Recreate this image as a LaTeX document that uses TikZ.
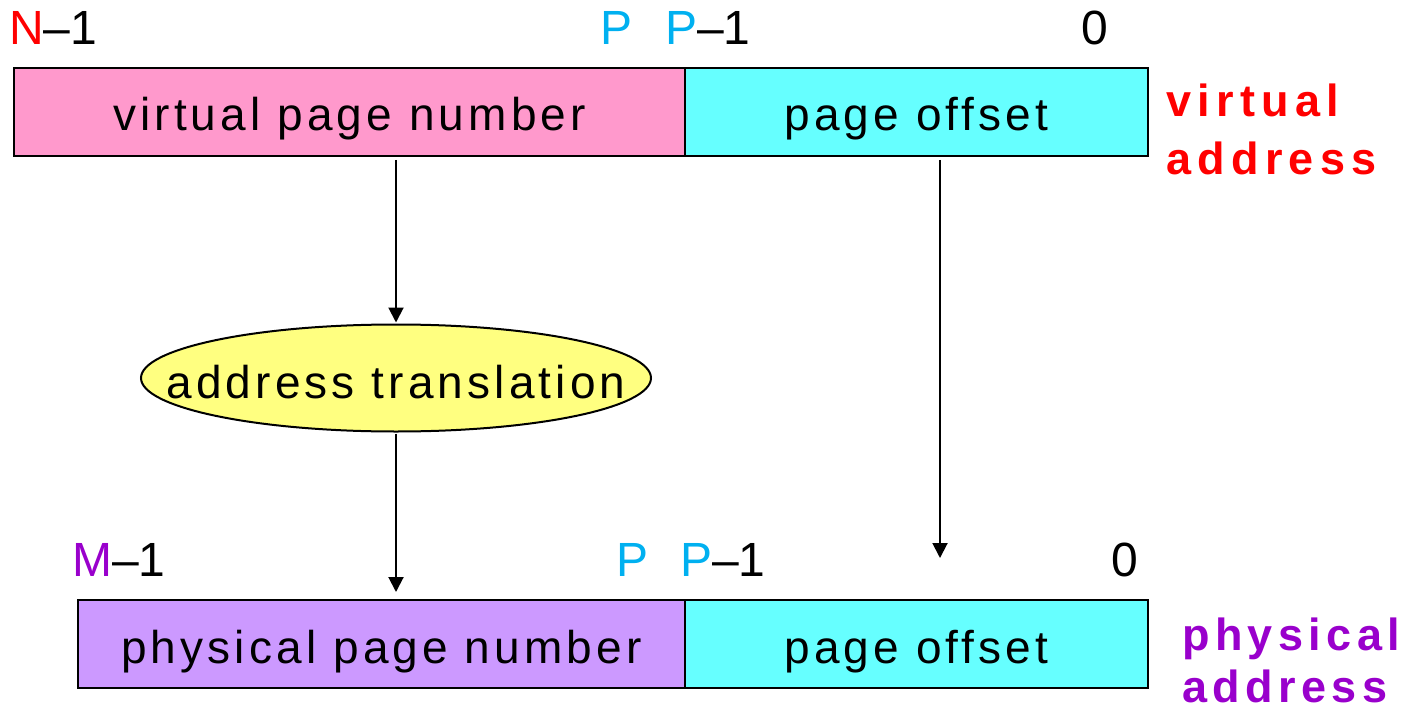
\documentclass[tikz,border=0pt]{standalone}
\usepackage{fontspec}
\setmainfont{Liberation Sans}
\newfontfamily\fieldfont[LetterSpace=9]{Liberation Sans}
\newfontfamily\tagfont[LetterSpace=14]{Liberation Sans}
\newfontfamily\ptagfont[LetterSpace=12]{Liberation Sans}
\usetikzlibrary{shapes.geometric,arrows.meta}

\definecolor{vpnfill}{HTML}{FF99CC}
\definecolor{offfill}{HTML}{66FFFF}
\definecolor{ppnfill}{HTML}{CC99FF}
\definecolor{xlatefill}{HTML}{FFFF80}
\definecolor{vred}{HTML}{FF0000}
\definecolor{bitblue}{HTML}{00B0F0}
\definecolor{pviolet}{HTML}{9900CC}

\begin{document}
\begin{tikzpicture}[x=1pt,y=-1pt,
  field/.style={draw=black, line width=2pt, inner sep=0pt, anchor=north west,
    minimum height=88pt, text height=38pt, text depth=0pt,
    font=\fieldfont\fontsize{46}{55}\selectfont},
  xlate/.style={ellipse, draw=black, line width=2pt, fill=xlatefill,
    inner xsep=-80pt, inner ysep=0pt, minimum width=510pt, minimum height=107pt,
    text height=40pt, text depth=0pt,
    font=\fieldfont\fontsize{46}{55}\selectfont},
  bit/.style={anchor=base west, inner sep=0pt, font=\fontsize{48}{58}\selectfont},
  tag/.style={anchor=base west, inner sep=0pt, font=\tagfont\bfseries\fontsize{45}{54}\selectfont},
  ptag/.style={anchor=base west, inner sep=0pt, font=\ptagfont\bfseries\fontsize{45}{54}\selectfont},
  arr/.style={line width=2pt, -{Triangle[length=15pt,width=15pt]}}]
\useasboundingbox (0,0) rectangle (1404,711);

% virtual address fields
\node[field, fill=vpnfill, minimum width=671pt] (vpn) at (13,67) {virtual page number};
\node[field, fill=offfill, minimum width=463pt] (vpo) at (684,67) {page offset};

% physical address fields
\node[field, fill=ppnfill, minimum width=607pt] (ppn) at (77,599) {physical page number};
\node[field, fill=offfill, minimum width=463pt] (ppo) at (684,599) {page offset};

% translation step
\node[xlate] (xt) at (396,378) {address translation};

% bit positions, virtual address
\node[bit] (vhi) at (9,45) {\textcolor{vred}{N}\textendash1};
\node[bit] (vp) at (600,45) {\textcolor{bitblue}{P}};
\node[bit] (vpm) at (665,45) {\textcolor{bitblue}{P}\textendash1};
\node[bit] (vlo) at (1081,45) {0};

% bit positions, physical address
\node[bit] (phi) at (72,576) {\textcolor{pviolet}{M}\textendash1};
\node[bit] (pp) at (616,576) {\textcolor{bitblue}{P}};
\node[bit] (ppm) at (680,576) {\textcolor{bitblue}{P}\textendash1};
\node[bit] (plo) at (1111,576) {0};

% address names
\node[tag, text=vred] (vt1) at (1166,117) {virtual};
\node[tag, text=vred] (vt2) at (1166,175) {address};
\node[ptag, text=pviolet] (pt1) at (1182,650) {physical};
\node[ptag, text=pviolet] (pt2) at (1182,702) {address};

% connectors
\coordinate (offend) at (940,558);
\draw[arr, shorten <=3pt, shorten >=1pt] (xt.north |- vpn.south) -- (xt.north);
\draw[arr, shorten <=1pt, shorten >=7pt] (xt.south) -- (xt.south |- ppn.north);
\draw[arr, shorten <=3pt] (offend |- vpo.south) -- (offend);
\end{tikzpicture}
\end{document}
